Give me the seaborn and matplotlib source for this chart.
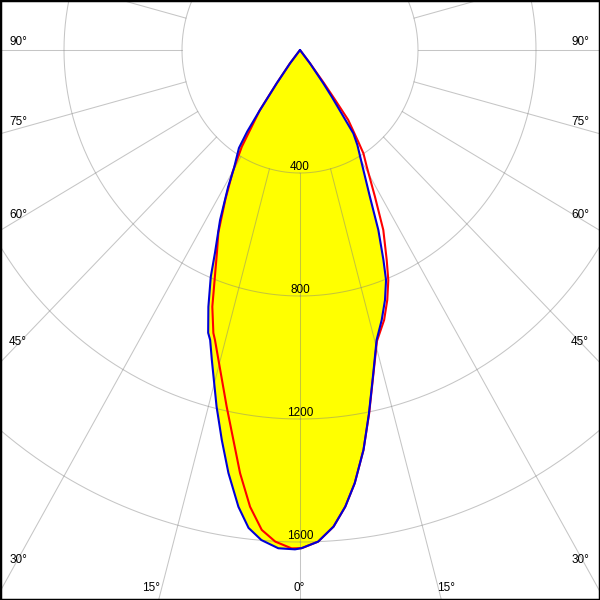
import numpy as np
import pandas as pd
import matplotlib
matplotlib.use("Agg")
import matplotlib.pyplot as plt
import seaborn as sns

# ---- data: intensity (cd) vs gamma angle (deg), negative = left half
c0_angles = [-40, -38, -36.1, -34.8, -34, -33, -30.2, -28.7, -26.1, -23.6, -22.3,
             -20.4, -18.7, -17.9, -16.5, -13.7, -11.8, -10, -8, -6.4, -4.7,
             -2.6, -0.6, 0.2, 2.2, 4.2, 5.9, 7.5, 9.4, 11.2, 13.3,
             15.4, 17.5, 19.5, 21.3, 22.5, 24.4, 26.4, 29.6, 32.2, 33.7,
             35.3, 36.1, 38, 40]
c0_vals = [0, 55, 134, 238, 320, 380, 445, 507, 616, 720, 797,
           891, 971, 991, 1052, 1194, 1296, 1397, 1500, 1564, 1599,
           1622, 1624, 1620, 1600, 1554, 1493, 1421, 1318, 1204, 1080,
           978, 921, 863, 803, 739, 643, 533, 424, 365, 326,
           186, 134, 55, 0]

c90_angles = [-40, -38, -36.1, -34.8, -32.1, -30, -27.5, -25, -23.1, -19.6,
              -17.7, -17, -12.1, -10.1, -8.4, -6.5, -4.75, -3, -1, 0.2,
              2.2, 4.2, 5.9, 7.5, 9.4, 11.2, 13.3, 15.4, 18, 20,
              21.8, 23.3, 25.75, 28.05, 30.8, 32.6, 33.5, 35.7, 36.3, 37,
              38, 40]
c90_vals = [0, 55, 134, 240, 371, 455, 548, 655, 718, 886,
            966, 986, 1186, 1288, 1391, 1495, 1566, 1601, 1621, 1620,
            1600, 1554, 1493, 1421, 1318, 1206, 1082, 982, 923, 865,
            806, 743, 650, 540, 442, 399, 358, 280, 200, 134,
            55, 0]

rings = [400, 800, 1200, 1600]
ring_labels = ["400", "800", "1200", "1600"]
side_angles = [90, 75, 60, 45, 30]
bottom_angles = [15, 0, 15]

df_c0 = pd.DataFrame({"theta": np.deg2rad(c0_angles), "I": c0_vals})
df_c90 = pd.DataFrame({"theta": np.deg2rad(c90_angles), "I": c90_vals})

sns.set_style("white")
plt.rcParams['font.family'] = ['Liberation Sans', 'DejaVu Sans']

# ---- layout (pixels): pole at (300, 50) from top, x scale a bit squeezed
W = 600
R = 2200
px_x, px_y = 0.295, 0.3075
w = 2 * px_x * R
h = 2 * px_y * R
fig = plt.figure(figsize=(6, 6), dpi=100)
ax = fig.add_axes([(300 - w / 2) / W, (550 - h / 2) / W, w / W, h / W], projection='polar')
ax.set_aspect('auto')
ax.set_theta_zero_location('S')
ax.set_facecolor('white')
ax.spines['polar'].set_visible(False)

grid_kw = dict(color='#808080', lw=0.75, alpha=0.45)

# filled C0-C180 curve
ax.fill(df_c0["theta"], df_c0["I"], color='#ffff00', lw=0, zorder=1)

# grid: rings and radial spokes every 15 deg (spokes start at first ring)
full = np.linspace(0, 2 * np.pi, 721)
for r in rings:
    ax.plot(full, np.full_like(full, r), zorder=2.5, **grid_kw)
for t in np.arange(0, 360, 15):
    ax.plot([np.deg2rad(t)] * 2, [rings[0], R], zorder=2.5, **grid_kw)

sns.lineplot(data=df_c90, x="theta", y="I", ax=ax, sort=False, color='#ff0000', lw=1.5, zorder=3)
sns.lineplot(data=df_c0, x="theta", y="I", ax=ax, sort=False, color='#0000d8', lw=1.5, zorder=4)

ax.set_xticks([])
ax.set_yticks([])
ax.grid(False)
ax.set_xlabel('')
ax.set_ylabel('')
ax.set_rlim(0, R)

for r, lbl in zip(rings, ring_labels):
    ax.annotate(lbl, xy=(0, r), xytext=(0, 0), textcoords='offset pixels',
                ha='center', va='bottom', fontsize=8.5, color='black', zorder=5)

# angle labels around the border
side_y = [42, 122, 215, 342, 560]
for a, y in zip(side_angles, side_y):
    fig.text(18 / W, 1 - y / W, f"{a}°", ha='center', va='center', fontsize=8.5, color='black')
    fig.text(580 / W, 1 - y / W, f"{a}°", ha='center', va='center', fontsize=8.5, color='black')
for a, x in zip(bottom_angles, [151, 299, 446]):
    fig.text(x / W, 1 - 588 / W, f"{a}°", ha='center', va='center', fontsize=8.5, color='black')

fig.add_artist(plt.Rectangle((0, 0), 1, 1, transform=fig.transFigure,
                             fill=False, ec='black', lw=2.5))

fig.savefig("out.png", dpi=100)
